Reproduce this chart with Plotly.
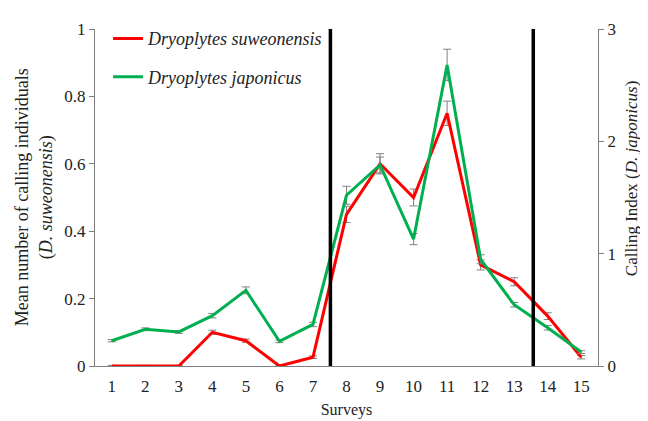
import plotly.graph_objects as go

surveys = list(range(1, 16))
suweonensis = [0, 0, 0, 0.10, 0.075, 0, 0.026, 0.45, 0.60, 0.50, 0.75, 0.30, 0.25, 0.148, 0.026]
suweonensis_err = [0.002, 0.002, 0.002, 0.006, 0.005, 0.002, 0.004, 0.024, 0.03, 0.025, 0.036, 0.015, 0.012, 0.01, 0.005]
japonicus = [0.225, 0.327, 0.303, 0.448, 0.674, 0.22, 0.37, 1.52, 1.79, 1.13, 2.68, 0.95, 0.545, 0.34, 0.124]
japonicus_err = [0.01, 0.012, 0.012, 0.02, 0.03, 0.012, 0.02, 0.08, 0.07, 0.05, 0.14, 0.04, 0.02, 0.02, 0.012]
period_bounds = [7.52, 13.57]

font = "Liberation Serif, Times New Roman, serif"
axis_gray = "#808080"
txt = "#222"
tf = dict(family=font, size=17, color=txt)
title_f = dict(family=font, size=18, color=txt)

fig = go.Figure()
fig.add_trace(go.Scatter(
    x=surveys, y=suweonensis, mode="lines", name="<i>Dryoplytes suweonensis</i>",
    line=dict(color="#ff0000", width=3), legendgroup="a",
    error_y=dict(type="data", array=suweonensis_err, color=axis_gray, thickness=1, width=4),
    yaxis="y"))
fig.add_trace(go.Scatter(
    x=surveys, y=japonicus, mode="lines", name="<i>Dryoplytes japonicus</i>",
    line=dict(color="#00b050", width=3), legendgroup="b",
    error_y=dict(type="data", array=japonicus_err, color=axis_gray, thickness=1, width=4),
    yaxis="y2"))

for xb in period_bounds:
    fig.add_shape(type="line", xref="x", yref="paper", x0=xb, x1=xb, y0=0, y1=1,
                  line=dict(color="black", width=3.5))

fig.add_annotation(text="Mean number of calling individuals<br>(<i>D. suweonensis</i>)",
                   xref="paper", yref="paper", x=-0.122, y=0.5, xanchor="center",
                   yanchor="middle", textangle=-90, showarrow=False, font=title_f)
fig.add_annotation(text="Calling Index (<i>D. japonicus</i>)", xref="paper", yref="paper",
                   x=1.068, y=0.555, xanchor="center", yanchor="middle", textangle=-90,
                   showarrow=False, font=tf)

fig.update_layout(
    width=640, height=413,
    margin=dict(l=87, r=50, t=12, b=55),
    paper_bgcolor="white", plot_bgcolor="white",
    font=dict(family=font, size=17, color=txt),
    showlegend=True,
    legend=dict(x=0.026, y=1.026, xanchor="left", yanchor="top", bgcolor="rgba(0,0,0,0)",
                itemwidth=30, tracegroupgap=12, font=dict(size=18, family=font, color=txt)),
    xaxis=dict(range=[0.5, 15.5], tickvals=surveys, showline=True, linecolor=axis_gray,
               linewidth=1, ticks="", showgrid=False, zeroline=False, tickfont=tf,
               automargin=False, ticklabelstandoff=5,
               title=dict(text="Surveys", standoff=8, font=dict(family=font, size=16, color=txt))),
    yaxis=dict(range=[0, 1], dtick=0.2, showline=True, linecolor=axis_gray, linewidth=1,
               ticks="outside", ticklen=5, tickcolor=axis_gray, showgrid=False, zeroline=False,
               tickfont=tf, automargin=False),
    yaxis2=dict(range=[0, 3], dtick=1, overlaying="y", side="right", anchor="x",
                showline=True, linecolor=axis_gray, linewidth=1, ticks="outside", ticklen=5,
                tickcolor=axis_gray, showgrid=False, zeroline=False, tickfont=tf,
                automargin=False),
)

fig.write_html("out.html")
